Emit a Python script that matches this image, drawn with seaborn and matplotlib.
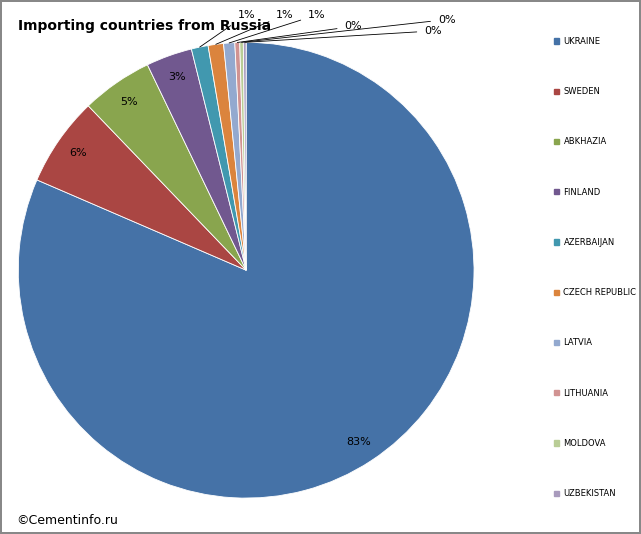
import matplotlib
matplotlib.use("Agg")
import matplotlib.pyplot as plt
import numpy as np
import seaborn as sns

countries = ["UKRAINE", "SWEDEN", "ABKHAZIA", "FINLAND", "AZERBAIJAN",
             "CZECH REPUBLIC", "LATVIA", "LITHUANIA", "MOLDOVA", "UZBEKISTAN"]
shares = [82.3, 6.4, 5.1, 3.3, 1.2, 1.1, 0.8, 0.35, 0.25, 0.2]
labels = ["83%", "6%", "5%", "3%", "1%", "1%", "1%", "0%", "0%", "0%"]
colors = ["#4572A7", "#AA4643", "#89A54E", "#71588F", "#4198AF",
          "#DB843D", "#93A9CF", "#D19392", "#B9CD96", "#A99BBD"]

sns.set_style("white")
plt.rcParams["text.color"] = "black"
fig = plt.figure(figsize=(6.41, 5.34), dpi=100)
fig.patch.set_edgecolor("#888888")
fig.patch.set_linewidth(1.5)

ax = fig.add_axes([0.384 - 0.3555, 0.494 - 0.427, 0.711, 0.854])
wedges, _ = ax.pie(shares, colors=sns.color_palette(colors), startangle=90,
                   counterclock=False, wedgeprops=dict(edgecolor="white", linewidth=0.6))
ax.set_xlim(-1, 1)
ax.set_ylim(-1, 1)
ax.set_aspect("equal")

# label text positions for small slices (axes fraction)
outside_xy = [(0.50, 1.06), (0.585, 1.06), (0.655, 1.06),
              (0.735, 1.035), (0.94, 1.05), (0.91, 1.025)]
for i, (w, lab) in enumerate(zip(wedges, labels)):
    mid = np.deg2rad((w.theta1 + w.theta2) / 2)
    x, y = np.cos(mid), np.sin(mid)
    if i < 4:
        ax.text(0.9 * x, 0.9 * y, lab, ha="center", va="center", fontsize=8)
    else:
        tx, ty = outside_xy[i - 4]
        ax.annotate(lab, xy=(x, y), xycoords="data",
                    xytext=(tx, ty), textcoords="axes fraction",
                    ha="center", va="center", fontsize=8,
                    arrowprops=dict(arrowstyle="-", color="black", lw=0.6,
                                    shrinkA=3, shrinkB=0))

handles = [plt.Rectangle((0, 0), 1, 1, color=c) for c in colors]
leg = fig.legend(handles, countries, loc="upper left", bbox_to_anchor=(0.853, 0.945),
                 frameon=False, fontsize=6.0, labelspacing=4.95,
                 handlelength=0.6, handleheight=0.6, handletextpad=0.5)

fig.text(0.028, 0.951, "Importing countries from Russia", fontsize=10,
         fontweight="bold", va="center")
fig.text(0.025, 0.025, "\u00a9Cementinfo.ru", fontsize=9, va="center")

fig.savefig("out.png", dpi=100)
